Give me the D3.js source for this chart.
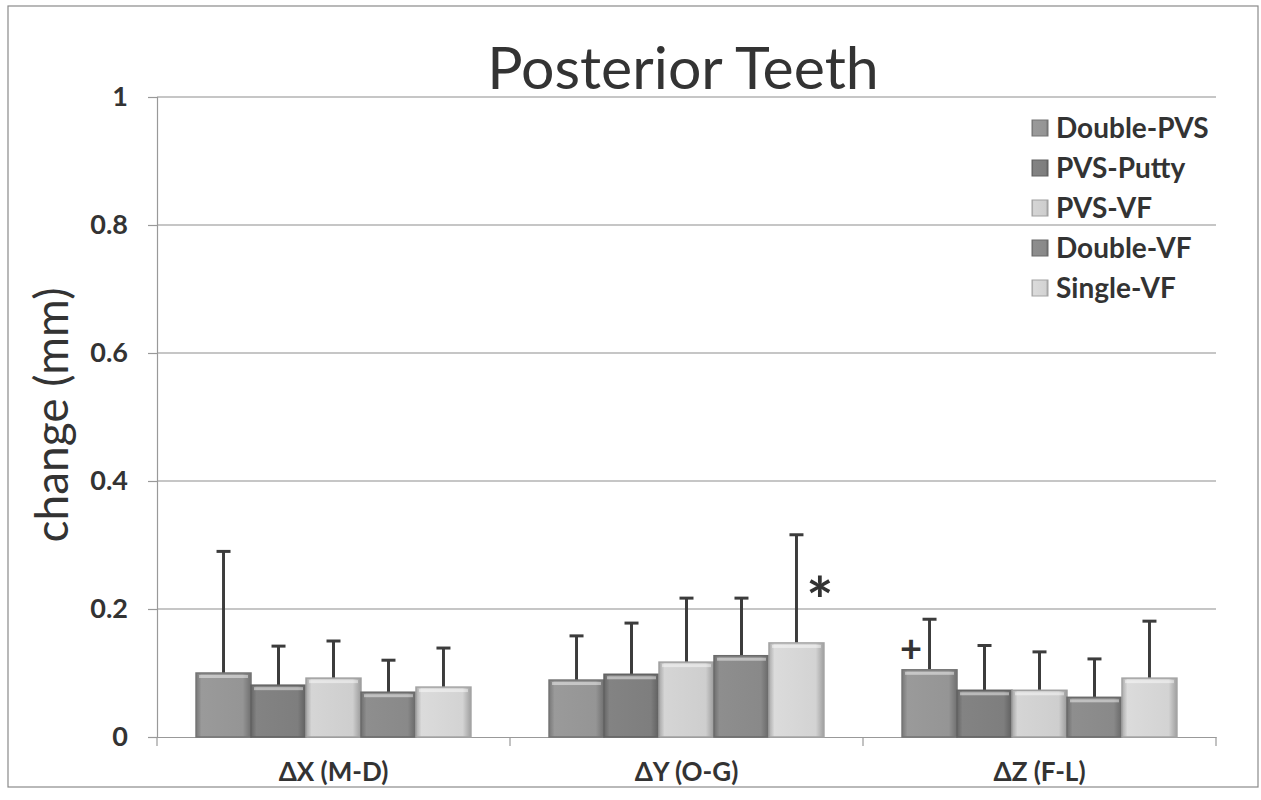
<!DOCTYPE html>
<html>
<head>
<meta charset="utf-8">
<script src="https://cdn.jsdelivr.net/npm/d3@7"></script>
<style>
  body { margin: 0; background: #fff; }
  text { font-family: Lato, "Open Sans", sans-serif; fill: #333; }
</style>
</head>
<body>
<svg id="chart" width="1261" height="800"></svg>
<script>
// categories and series
var categories = ['\u0394X (M-D)', '\u0394Y (O-G)', '\u0394Z (F-L)'];
var series = ['Double-PVS', 'PVS-Putty', 'PVS-VF', 'Double-VF', 'Single-VF'];
var yTicks = [0, 0.2, 0.4, 0.6, 0.8, 1];

// mean change per series, one value per category
var doublePVS = [0.100, 0.089, 0.105];
var pvsPutty  = [0.081, 0.098, 0.073];
var pvsVF     = [0.092, 0.117, 0.073];
var doubleVF  = [0.070, 0.127, 0.062];
var singleVF  = [0.078, 0.147, 0.092];

// top of the error bar (mean + sd)
var doublePVSErr = [0.290, 0.158, 0.184];
var pvsPuttyErr  = [0.142, 0.178, 0.143];
var pvsVFErr     = [0.150, 0.217, 0.133];
var doubleVFErr  = [0.120, 0.217, 0.122];
var singleVFErr  = [0.139, 0.316, 0.181];

var colors = ['#959595', '#7e7e7e', '#cecece', '#898989', '#d3d3d3'];

var values = [doublePVS, pvsPutty, pvsVF, doubleVF, singleVF];
var errors = [doublePVSErr, pvsPuttyErr, pvsVFErr, doubleVFErr, singleVFErr];

var svg = d3.select('#chart');
var margin = {left: 157, right: 45, top: 97, bottom: 63};
var width = 1261 - margin.left - margin.right,
    height = 800 - margin.top - margin.bottom;

// outer frame of the chart area
svg.append('rect')
   .attr('x', 8).attr('y', 6)
   .attr('width', 1250).attr('height', 781)
   .attr('fill', 'none')
   .attr('stroke', '#8a8a8a')
   .attr('stroke-width', 1.2);

var defs = svg.append('defs');
colors.forEach(function (c, i) {
  var g = defs.append('linearGradient')
              .attr('id', 'bar-grad-' + i)
              .attr('x1', 0).attr('x2', 1).attr('y1', 0).attr('y2', 0);
  var base = d3.color(c);
  g.append('stop').attr('offset', '0%').attr('stop-color', base.darker(0.6));
  g.append('stop').attr('offset', '10%').attr('stop-color', base.brighter(0.1));
  g.append('stop').attr('offset', '85%').attr('stop-color', base);
  g.append('stop').attr('offset', '100%').attr('stop-color', base.darker(0.8));
});

var chart = svg.append('g')
               .attr('transform', 'translate(' + margin.left + ',' + margin.top + ')');

var x0 = d3.scaleBand().domain(categories).range([0, width]).padding(0);
var x1 = d3.scaleBand().domain(series).range([0, x0.bandwidth()])
           .paddingInner(0).paddingOuter(0.71);
var y = d3.scaleLinear().domain([0, 1]).range([height, 0]);

// gridlines
chart.append('g')
     .selectAll('line')
     .data(yTicks.filter(function (d) { return d > 0; }))
     .enter().append('line')
     .attr('x1', 0).attr('x2', width)
     .attr('y1', function (d) { return y(d); })
     .attr('y2', function (d) { return y(d); })
     .attr('stroke', '#8e8e8e')
     .attr('stroke-width', 1.2);

// y axis
var yAxis = chart.append('g')
     .call(d3.axisLeft(y).tickValues(yTicks).tickSize(9).tickPadding(20)
             .tickFormat(function (d) { return d === 0 || d === 1 ? d : d3.format('.1f')(d); }));
yAxis.select('.domain').attr('stroke', '#999').attr('stroke-width', 1.2);
yAxis.selectAll('.tick line').attr('stroke', '#999').attr('stroke-width', 1.2);
yAxis.selectAll('text')
     .style('font-size', '27px').style('font-weight', 'bold').attr('fill', '#333');

// x axis
var xAxis = chart.append('g')
     .attr('transform', 'translate(0,' + height + ')')
     .call(d3.axisBottom(x0).tickSize(0).tickPadding(26));
xAxis.select('.domain').attr('stroke', '#999').attr('stroke-width', 1.2);
xAxis.selectAll('text')
     .style('font-size', '26px').style('font-weight', 'bold').attr('fill', '#333');
// category separators
xAxis.selectAll('.sep')
     .data(d3.range(categories.length + 1))
     .enter().append('line')
     .attr('class', 'sep')
     .attr('x1', function (i) { return i * x0.step(); })
     .attr('x2', function (i) { return i * x0.step(); })
     .attr('y1', 0).attr('y2', 9)
     .attr('stroke', '#999').attr('stroke-width', 1.2);

// bars
var groups = chart.selectAll('.group')
     .data(categories)
     .enter().append('g')
     .attr('class', 'group')
     .attr('transform', function (d) { return 'translate(' + x0(d) + ',0)'; });

var barData = function (cat, ci) {
  return series.map(function (s, si) {
    return {series: s, si: si, value: values[si][ci], err: errors[si][ci]};
  });
};

var bar = groups.selectAll('.bar')
     .data(function (d, ci) { return barData(d, ci); })
     .enter().append('g')
     .attr('class', 'bar');

// error bars behind bars
bar.append('line')
   .attr('x1', function (d) { return x1(d.series) + x1.bandwidth() / 2; })
   .attr('x2', function (d) { return x1(d.series) + x1.bandwidth() / 2; })
   .attr('y1', function (d) { return y(d.value); })
   .attr('y2', function (d) { return y(d.err); })
   .attr('stroke', '#3c3c3c').attr('stroke-width', 3);
bar.append('line')
   .attr('x1', function (d) { return x1(d.series) + x1.bandwidth() / 2 - 7; })
   .attr('x2', function (d) { return x1(d.series) + x1.bandwidth() / 2 + 7; })
   .attr('y1', function (d) { return y(d.err); })
   .attr('y2', function (d) { return y(d.err); })
   .attr('stroke', '#3c3c3c').attr('stroke-width', 3);

bar.append('rect')
   .attr('x', function (d) { return x1(d.series); })
   .attr('y', function (d) { return y(d.value); })
   .attr('width', x1.bandwidth())
   .attr('height', function (d) { return height - y(d.value); })
   .attr('fill', function (d) { return 'url(#bar-grad-' + d.si + ')'; })
   .attr('stroke', function (d) { return d3.color(colors[d.si]).darker(0.7); })
   .attr('stroke-width', 1.5);
// light bevel at the top of each bar
bar.append('rect')
   .attr('x', function (d) { return x1(d.series) + 3; })
   .attr('y', function (d) { return y(d.value) + 2; })
   .attr('width', x1.bandwidth() - 6)
   .attr('height', 3)
   .attr('fill', '#fff').attr('opacity', 0.45);

// significance marks
chart.append('text')
     .attr('x', x0(categories[1]) + x1(series[4]) + x1.bandwidth() - 4)
     .attr('y', y(0.177))
     .attr('text-anchor', 'middle')
     .style('font-size', '64px').style('font-weight', 'bold')
     .text('*');
chart.append('text')
     .attr('x', x0(categories[2]) + x1(series[0]) + 9)
     .attr('y', y(0.117))
     .attr('text-anchor', 'middle')
     .style('font-size', '38px').style('font-weight', 'bold')
     .text('+');

// title
svg.append('text')
   .attr('x', 683).attr('y', 89)
   .attr('text-anchor', 'middle')
   .style('font-size', '59px').attr('fill', '#444')
   .text('Posterior Teeth');

// y label
svg.append('text')
   .attr('transform', 'translate(68,' + 415 + ') rotate(-90)')
   .attr('text-anchor', 'middle')
   .style('font-size', '46px').attr('fill', '#333')
   .text('change (mm)');

// legend
var legend = svg.append('g').attr('transform', 'translate(1032,128)');
var item = legend.selectAll('.item')
     .data(series)
     .enter().append('g')
     .attr('transform', function (d, i) { return 'translate(0,' + i * 40 + ')'; });
item.append('rect')
    .attr('x', 0).attr('y', -8)
    .attr('width', 16).attr('height', 16)
    .attr('fill', function (d, i) { return 'url(#bar-grad-' + i + ')'; })
    .attr('stroke', function (d, i) { return d3.color(colors[i]).darker(0.7); });
item.append('text')
    .attr('x', 24).attr('y', 0)
    .attr('dy', '0.35em')
    .style('font-size', '28px').style('font-weight', 'bold').attr('fill', '#333')
    .text(function (d) { return d; });
</script>
</body>
</html>
